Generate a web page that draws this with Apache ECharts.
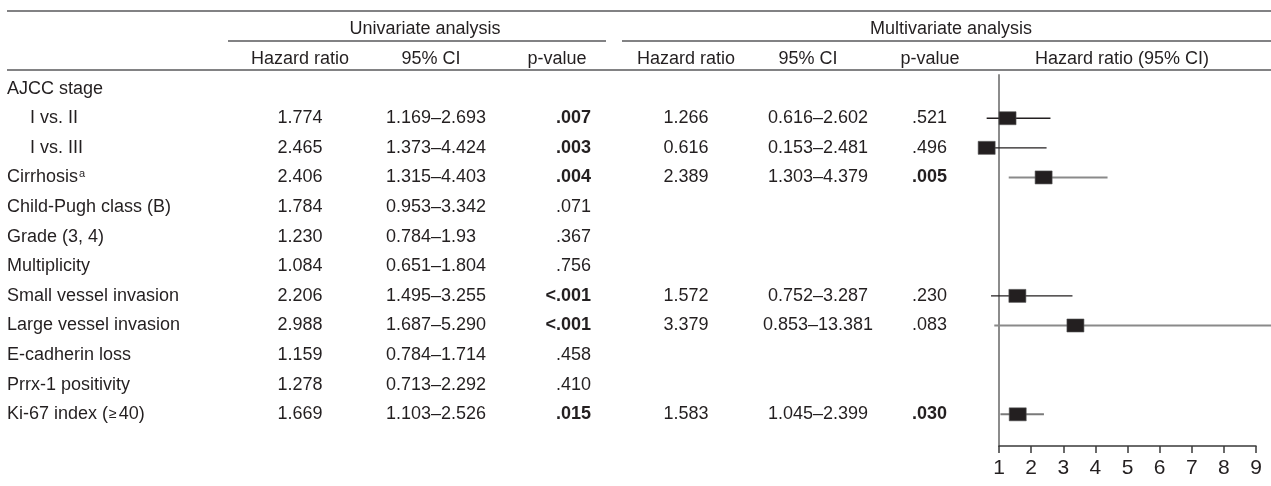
<!DOCTYPE html>
<html>
<head>
<meta charset="utf-8">
<script src="https://cdn.jsdelivr.net/npm/echarts@6/dist/echarts.min.js"></script>
<style>
  html, body { margin: 0; padding: 0; background: #fff; }
  #chart { width: 1271px; height: 486px; }
</style>
</head>
<body>
<div id="chart"></div>
<script>
// ---- Table content ----
const rowLabels = [
  'AJCC stage', 'I vs. II', 'I vs. III', 'Cirrhosis', 'Child-Pugh class (B)',
  'Grade (3, 4)', 'Multiplicity', 'Small vessel invasion', 'Large vessel invasion',
  'E-cadherin loss', 'Prrx-1 positivity', 'Ki-67 index (\u226540)'
];
const subRows = [1, 2];            // rows nested under "AJCC stage"
const labelNotes = { 3: 'a' };     // footnote marks after a row label

const uniHR = [null, '1.774', '2.465', '2.406', '1.784', '1.230', '1.084', '2.206', '2.988', '1.159', '1.278', '1.669'];
const uniCI = [null, '1.169\u20132.693', '1.373\u20134.424', '1.315\u20134.403', '0.953\u20133.342', '0.784\u20131.93',
  '0.651\u20131.804', '1.495\u20133.255', '1.687\u20135.290', '0.784\u20131.714', '0.713\u20132.292', '1.103\u20132.526'];
const uniP = [null, '.007', '.003', '.004', '.071', '.367', '.756', '<.001', '<.001', '.458', '.410', '.015'];

const multiHR = [null, 1.266, 0.616, 2.389, null, null, null, 1.572, 3.379, null, null, 1.583];
const multiLo = [null, 0.616, 0.153, 1.303, null, null, null, 0.752, 0.853, null, null, 1.045];
const multiHi = [null, 2.602, 2.481, 4.379, null, null, null, 3.287, 13.381, null, null, 2.399];
const multiP = [null, '.521', '.496', '.005', null, null, null, '.230', '.083', null, null, '.030'];

const groupHeaders = ['Univariate analysis', 'Multivariate analysis'];
const columnHeaders = ['Hazard ratio', '95% CI', 'p-value', 'Hazard ratio', '95% CI', 'p-value', 'Hazard ratio (95% CI)'];
const axisMin = 1, axisMax = 9, axisStep = 1;

// ---- Layout & style ----
const FONT = '"Liberation Sans", Arial, Helvetica, sans-serif';
const INK = '#231f20';
const RULE = '#58595b';
const GRID_TOP = 75, GRID_H = 371;
const Y_MIN = -0.46, Y_MAX = 12.07;     // row scale shared by every grid
const PLOT_LEFT = 999, PLOT_RIGHT = 1256;
const FLOOR = 0.6;                      // whiskers are cut off below this ratio
const unit = (PLOT_RIGHT - PLOT_LEFT) / (axisMax - axisMin);
const col = { label: 7, indent: 30, uHR: 300, uCI: 386, uP: 591, mHR: 686, mCI: 818, mP: 947 };
const headX = [300, 431, 557, 686, 808, 930, 1122];
const groupX = [425, 951];
const whiskerStyle = {
  1: { stroke: INK, lineWidth: 1.3 },
  2: { stroke: INK, lineWidth: 1.3 },
  3: { stroke: '#8a8a8a', lineWidth: 2 },
  7: { stroke: INK, lineWidth: 1.3 },
  8: { stroke: '#8a8a8a', lineWidth: 2 },
  11: { stroke: '#7a7a7a', lineWidth: 2 }
};

function isSignificant(p) {
  return p.charAt(0) === '<' || parseFloat(p) < 0.05;
}
function cell(x, y, text, align, bold) {
  return {
    type: 'text', x: x, y: y,
    style: {
      text: text, fill: INK, align: align, verticalAlign: 'middle',
      fontFamily: FONT, fontSize: 18, fontWeight: bold ? 'bold' : 'normal'
    }
  };
}

// body rows of the table
function renderRow(params, api) {
  const i = params.dataIndex;
  const y = api.coord([0, api.value(1)])[1];
  const kids = [];
  const lx = subRows.indexOf(i) >= 0 ? col.indent : col.label;
  let label = rowLabels[i].replace('\u2265', '{ge|\u2265}');
  if (labelNotes[i]) label += '{sup|' + labelNotes[i] + '}';
  kids.push({
    type: 'text', x: lx, y: y,
    style: {
      text: label, fill: INK, align: 'left', verticalAlign: 'middle',
      fontFamily: FONT, fontSize: 18,
      rich: {
        sup: { fontSize: 11, fontFamily: FONT, fill: INK, verticalAlign: 'top', padding: [0, 0, 0, 1] },
        ge: { fontSize: 14, fontFamily: FONT, fill: INK, padding: [0, 2, 0, 1] }
      }
    }
  });
  if (uniHR[i]) kids.push(cell(col.uHR, y, uniHR[i], 'center', false));
  if (uniCI[i]) kids.push(cell(col.uCI, y, uniCI[i], 'left', false));
  if (uniP[i]) kids.push(cell(col.uP, y, uniP[i], 'right', isSignificant(uniP[i])));
  if (multiHR[i] != null) {
    kids.push(cell(col.mHR, y, multiHR[i].toFixed(3), 'center', false));
    kids.push(cell(col.mCI, y, multiLo[i].toFixed(3) + '\u2013' + multiHi[i].toFixed(3), 'center', false));
    kids.push(cell(col.mP, y, multiP[i], 'right', isSignificant(multiP[i])));
  }
  return { type: 'group', children: kids };
}

// two header lines above the body
function renderHeader(params, api) {
  const y = api.coord([0, api.value(1)])[1];
  const kids = [];
  if (params.dataIndex === 0) {
    groupHeaders.forEach((t, k) => kids.push(cell(groupX[k], y, t, 'center', false)));
  } else {
    columnHeaders.forEach((t, k) => kids.push(cell(headX[k], y, t, 'center', false)));
  }
  return { type: 'group', children: kids };
}

// square + confidence interval for each multivariate estimate
function renderForest(params, api) {
  const row = api.value(1);
  const c = api.coord([api.value(0), row]);
  const lo = api.coord([Math.max(api.value(2), FLOOR), row]);
  const hi = api.coord([api.value(3), row]);
  const ws = whiskerStyle[row] || { stroke: INK, lineWidth: 1.3 };
  return {
    type: 'group',
    children: [
      { type: 'line', shape: { x1: lo[0], y1: c[1], x2: hi[0], y2: c[1] }, style: { stroke: ws.stroke, lineWidth: ws.lineWidth } },
      { type: 'rect', shape: { x: c[0] - 8.5, y: c[1] - 6.5, width: 17, height: 13 }, style: { fill: INK, stroke: '#555', lineWidth: 0.6 } }
    ]
  };
}

const forestData = [];
multiHR.forEach((v, i) => { if (v != null) forestData.push([v, i, multiLo[i], multiHi[i]]); });

const yBase = { type: 'value', min: Y_MIN, max: Y_MAX, inverse: true, show: false };

const option = {
  animation: false,
  backgroundColor: '#fff',
  grid: [
    { left: 0, width: 1271, top: GRID_TOP, height: GRID_H },
    { left: PLOT_LEFT - (axisMin - FLOOR) * unit, width: PLOT_RIGHT - PLOT_LEFT + (axisMin - FLOOR) * unit, top: GRID_TOP, height: GRID_H },
    { left: PLOT_LEFT, width: PLOT_RIGHT - PLOT_LEFT, top: GRID_TOP, height: GRID_H }
  ],
  xAxis: [
    { gridIndex: 0, type: 'value', min: 0, max: 1271, show: false },
    { gridIndex: 1, type: 'value', min: FLOOR, max: axisMax, show: false },
    {
      gridIndex: 2, type: 'value', min: axisMin, max: axisMax, interval: axisStep,
      axisLine: { show: true, onZero: false, lineStyle: { color: '#3a3a3a', width: 1.5 } },
      axisTick: { show: true, length: 7, lineStyle: { color: '#3a3a3a', width: 1.5 } },
      axisLabel: { color: INK, fontSize: 21, fontFamily: FONT, margin: 12 },
      splitLine: { show: false }
    }
  ],
  yAxis: [
    Object.assign({ gridIndex: 0 }, yBase),
    Object.assign({ gridIndex: 1 }, yBase),
    {
      gridIndex: 2, type: 'value', min: Y_MIN, max: Y_MAX, inverse: true,
      axisLine: { show: true, onZero: false, lineStyle: { color: '#8c8c8c', width: 2 } },
      axisTick: { show: false }, axisLabel: { show: false }, splitLine: { show: false }
    }
  ],
  graphic: [
    { type: 'line', shape: { x1: 7, y1: 11, x2: 1271, y2: 11 }, style: { stroke: RULE, lineWidth: 1.5 } },
    { type: 'line', shape: { x1: 228, y1: 41, x2: 606, y2: 41 }, style: { stroke: RULE, lineWidth: 1.5 } },
    { type: 'line', shape: { x1: 622, y1: 41, x2: 1271, y2: 41 }, style: { stroke: RULE, lineWidth: 1.5 } },
    { type: 'line', shape: { x1: 7, y1: 70, x2: 1271, y2: 70 }, style: { stroke: RULE, lineWidth: 1.5 } }
  ],
  series: [
    {
      type: 'custom', name: 'header', xAxisIndex: 0, yAxisIndex: 0, clip: false,
      data: [[0, -2], [0, -1]], renderItem: renderHeader, silent: true
    },
    {
      type: 'custom', name: 'rows', xAxisIndex: 0, yAxisIndex: 0, clip: false,
      data: rowLabels.map((_, i) => [0, i]), renderItem: renderRow, silent: true
    },
    {
      type: 'custom', name: 'forest', xAxisIndex: 1, yAxisIndex: 1, clip: false,
      data: forestData, renderItem: renderForest, silent: true
    }
  ]
};

echarts.init(document.getElementById('chart'), null, { renderer: 'canvas' }).setOption(option);
</script>
</body>
</html>
